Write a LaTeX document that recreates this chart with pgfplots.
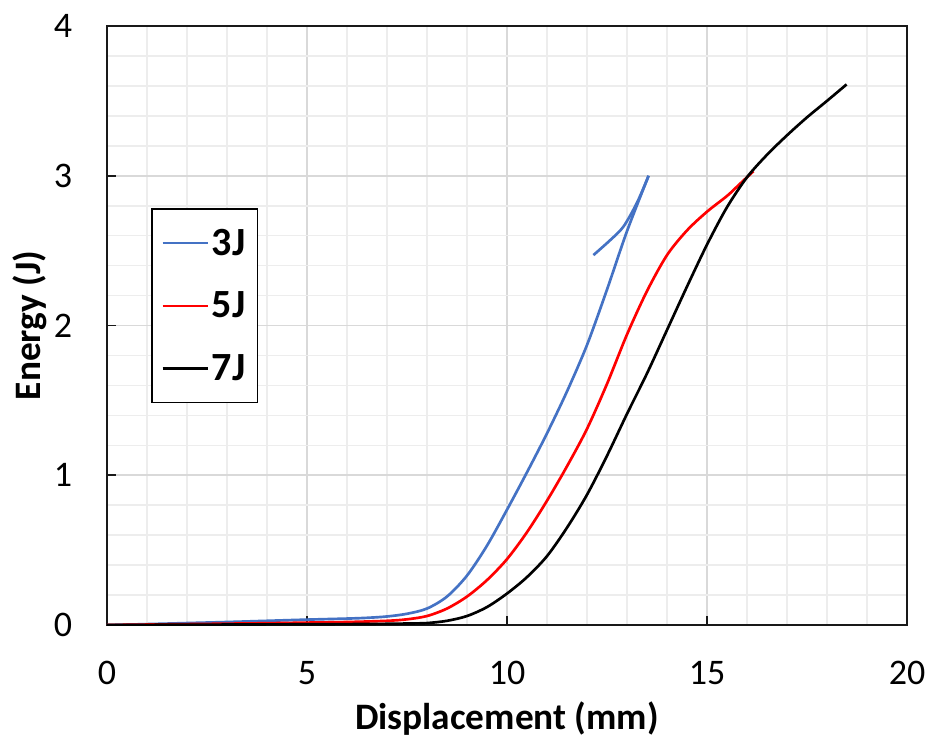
\documentclass[border=0pt]{standalone}
\usepackage{pgfplots}
\pgfplotsset{compat=1.18}
\usepackage{fontspec}
\setmainfont{Carlito}
\definecolor{cblue}{HTML}{4472C4}
\definecolor{cred}{HTML}{FF0000}
\definecolor{majgrid}{HTML}{D9D9D9}
\definecolor{mingrid}{HTML}{EDEDED}
\begin{document}
\begin{tikzpicture}
\path[use as bounding box] (-80.25pt,-89.25pt) rectangle (617.25pt,468.75pt);
\begin{axis}[
  at={(0,0)}, anchor=south west,
  scale only axis, width=600pt, height=449.25pt,
  xmin=0, xmax=20, ymin=0, ymax=4,
  xtick={0,5,10,15,20}, ytick={0,1,2,3,4},
  minor x tick num=4, minor y tick num=4,
  grid=both,
  major grid style={majgrid, line width=1.2pt},
  minor grid style={mingrid, line width=1.2pt},
  axis line style={black!90, line width=1.5pt},
  tick align=inside, xtick pos=bottom, ytick pos=left,
  major tick length=7pt, minor tick length=0pt,
  tick style={black!90, line width=1.3pt},
  /pgf/number format/assume math mode=true,
  tick label style={font=\fontsize{27}{31}\selectfont},
  xticklabel style={anchor=center, inner sep=0pt, yshift=-36pt},
  yticklabel style={anchor=east, inner sep=0pt, xshift=-26pt},
  xlabel={\textbf{Displacement (mm)}},
  ylabel={\textbf{Energy (J)}},
  label style={font=\fontsize{28}{32}\selectfont},
  xlabel style={at={(axis description cs:0.5,-0.156)}, anchor=center},
  ylabel style={at={(axis description cs:-0.096,0.5)}, anchor=center},
  legend cell align=left,
  legend image code/.code={\draw[#1] (0pt,0pt) -- (34pt,0pt);},
  legend style={at={(0.055,0.696)}, anchor=north west, draw=black,
    line width=1.3pt, font=\fontsize{30}{34}\selectfont\bfseries,
    inner xsep=7pt, inner ysep=13pt, row sep=22pt,
    nodes={inner sep=2pt}},
]
\addplot[cblue, line width=2pt, smooth, tension=0.5] coordinates {
(0,0) (1,0.006) (2,0.013) (3,0.02) (4,0.028) (5,0.036) (6,0.043) (6.5,0.048)
(7,0.057) (7.5,0.075) (8,0.11) (8.5,0.19) (9,0.33) (9.5,0.53) (10,0.77)
(10.5,1.02) (11,1.28) (11.5,1.56) (12,1.87) (12.5,2.24) (13,2.63) (13.54,3.0)
};
\addlegendentry{3J}
\addplot[cblue, line width=2pt, smooth, tension=0.5, forget plot] coordinates {
(13.54,3.0) (13.25,2.82) (12.91,2.66) (12.58,2.57) (12.16,2.47)
};
\addplot[cred, line width=2pt, smooth, tension=0.5] coordinates {
(0,0) (1,0.003) (2,0.006) (3,0.009) (4,0.012) (5,0.016) (6,0.02) (7,0.028)
(7.5,0.038) (8,0.06) (8.5,0.11) (9,0.19) (9.5,0.30) (10,0.44) (10.5,0.62)
(11,0.83) (11.5,1.06) (12,1.31) (12.5,1.61) (13,1.94) (13.5,2.23) (14,2.47)
(14.5,2.635) (15,2.76) (15.5,2.865) (15.8,2.94) (16.16,3.03)
};
\addlegendentry{5J}
\addplot[black, line width=2pt, smooth, tension=0.5] coordinates {
(0,0) (2,0.002) (4,0.004) (6,0.006) (7,0.008) (7.5,0.01) (8,0.013)
(8.5,0.028) (9,0.06) (9.5,0.12) (10,0.21) (10.5,0.32) (11,0.46) (11.5,0.65)
(12,0.87) (12.5,1.13) (13,1.41) (13.5,1.68) (14,1.97) (14.5,2.26) (15,2.54)
(15.5,2.79) (16,2.99) (16.5,3.14) (17,3.27) (17.5,3.39) (18,3.50) (18.49,3.61)
};
\addlegendentry{7J}
\end{axis}
\end{tikzpicture}
\end{document}
